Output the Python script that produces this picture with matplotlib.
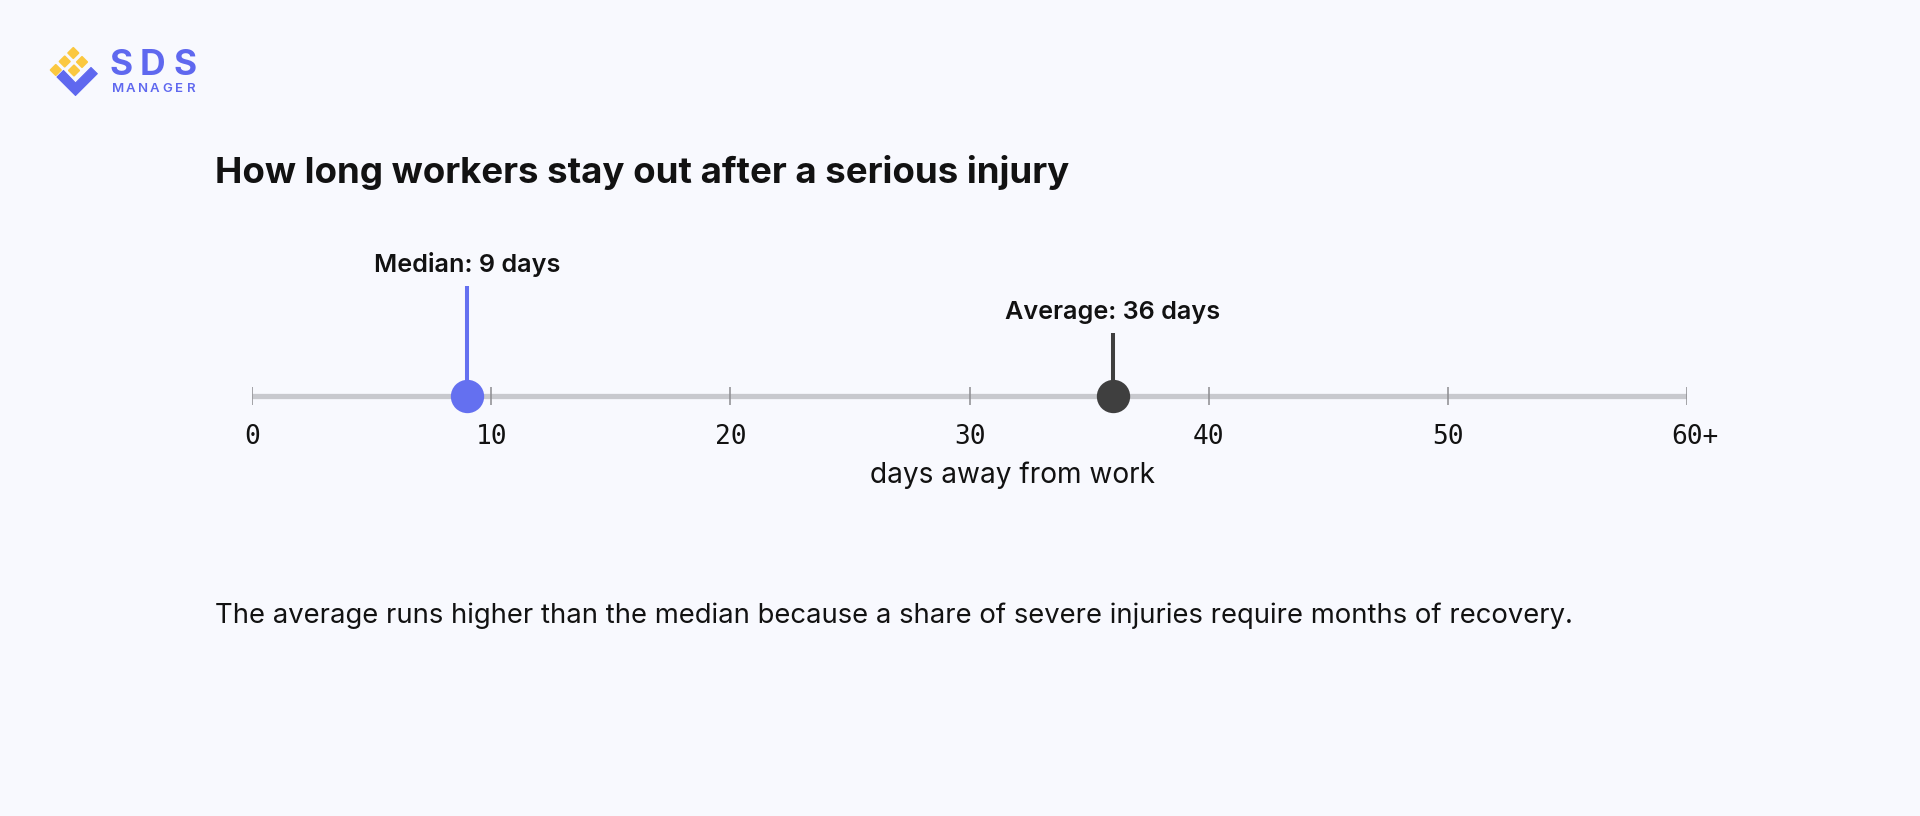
import matplotlib
matplotlib.use("Agg")
import matplotlib.pyplot as plt
from matplotlib.patches import Polygon
from matplotlib.transforms import ScaledTranslation

# data
tick_values = [0, 10, 20, 30, 40, 50, 60]
tick_labels = ["0", "10", "20", "30", "40", "50", "60+"]
stat_names = ["Median", "Average"]
stat_days = [9, 36]
stat_colors = ["#6470f0", "#3f3f3f"]

title = "How long workers stay out after a serious injury"
axis_label = "days away from work"
caption = ("The average runs higher than the median because a share of "
           "severe injuries require months of recovery.")

BG = "#f8f9fe"
TEXT = "#121212"
W, H = 1920, 816


def draw_logo(deco):
    yellow = "#fbc840"
    blue = "#5f68ef"
    r = 5.2
    for cx, cy in [(73.3, 53), (64.7, 61.5), (82, 62), (55.8, 70), (74, 70.5)]:
        deco.add_patch(Polygon([(cx, cy - r), (cx + r, cy), (cx, cy + r), (cx - r, cy)],
                               closed=True, fc=yellow, ec=yellow, lw=1.3,
                               joinstyle="round"))
    # blue check mark
    deco.add_patch(Polygon([(57, 77), (63.5, 70.5), (75.5, 83), (91, 67.5),
                            (97.3, 73.7), (75.5, 95.5)],
                           closed=True, fc=blue, ec=blue, lw=0.8, joinstyle="round"))
    for ch, x in zip("SDS", [121.5, 152.5, 185.5]):
        deco.text(x, 75, ch, ha="center", va="baseline", fontsize=25.5,
                  fontweight="bold", color=blue, family="Inter")
    for i, ch in enumerate("MANAGER"):
        deco.text(118 + 12.3 * i, 92.5, ch, ha="center", va="baseline", fontsize=9.5,
                  fontweight="semibold", color=blue, family="Inter")


def plot_data(ax):
    ax.plot([tick_values[0], tick_values[-1]], [0, 0], color="#c8c9ce", lw=3.8,
            solid_capstyle="butt", zorder=1)
    ax.vlines(tick_values, -0.09, 0.09, color="#8c8c90", lw=1.1, zorder=2)
    plus_shift = ScaledTranslation(7.5 / 100, 0, ax.figure.dpi_scale_trans)
    for v, lab in zip(tick_values, tick_labels):
        tr = ax.transData + plus_shift if lab.endswith("+") else ax.transData
        ax.text(v, -0.41, lab, ha="center", va="center", fontsize=18.8,
                family="DejaVu Sans Mono", color=TEXT, transform=tr)

    stem_tops = [1.10, 0.63]
    for name, d, c, top in zip(stat_names, stat_days, stat_colors, stem_tops):
        ax.vlines(d, 0, top, color=c, lw=2.9, zorder=3)
        ax.plot(d, 0, "o", ms=24, color=c, mec="none", zorder=4, clip_on=False)
        ax.text(d, top + 0.14, f"{name}: {d} days", ha="center", va="baseline",
                fontsize=18.15, fontweight="semibold", color=TEXT, family="Inter")

    ax.text(31.8, -0.79, axis_label, ha="center", va="center", fontsize=20.2,
            color=TEXT, family="Inter")


def set_properties(ax):
    ax.set_xlim(tick_values[0], tick_values[-1])
    ax.set_ylim(-1, 2)
    ax.axis("off")


def main():
    fig = plt.figure(figsize=(W / 100, H / 100), dpi=100, facecolor=BG)
    deco = fig.add_axes([0, 0, 1, 1])
    deco.set_xlim(0, W)
    deco.set_ylim(H, 0)
    deco.axis("off")
    draw_logo(deco)
    deco.text(215, 183, title, ha="left", va="baseline", fontsize=26.4,
              fontweight="bold", color=TEXT, family="Inter")
    deco.text(215, 623, caption, ha="left", va="baseline", fontsize=19.75,
              color=TEXT, family="Inter")

    ax = fig.add_axes([252 / W, (H - 496) / H, (1687 - 252) / W, 300 / H])
    ax.set_facecolor("none")
    plot_data(ax)
    set_properties(ax)
    fig.savefig("out.png", dpi=100, facecolor=BG)


if __name__ == "__main__":
    main()
